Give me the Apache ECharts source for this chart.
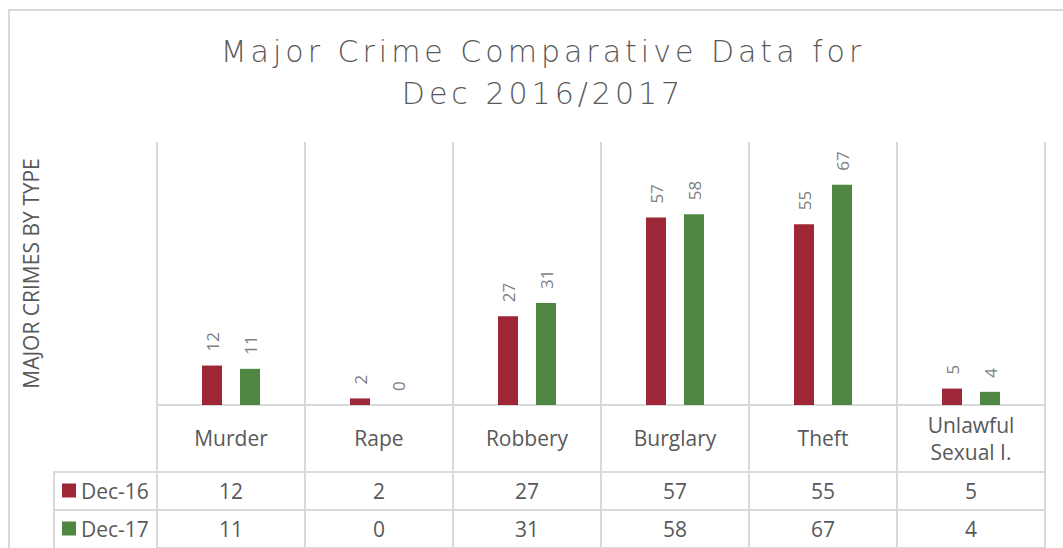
<!DOCTYPE html>
<html>
<head>
<meta charset="utf-8">
<script src="https://cdn.jsdelivr.net/npm/echarts@6/dist/echarts.min.js"></script>
<style>
    html, body { margin: 0; padding: 0; background: #fff; }
    #chart { width: 1063px; height: 548px; }
    /* spaced-out title letters, like the original */
    #chart text[style*="30px"] { letter-spacing: 4px; }
</style>
</head>
<body>
<div id="chart"></div>
<script>
const categories = ['Murder', 'Rape', 'Robbery', 'Burglary', 'Theft', 'Unlawful Sexual I.'];
const dec16 = [12, 2, 27, 57, 55, 5];
const dec17 = [11, 0, 31, 58, 67, 4];
const seriesNames = ['Dec-16', 'Dec-17'];

const gridColor = '#d9d9d9';
const textColor = '#595959';
const tableFont = 'Open Sans';

const chart = echarts.init(document.getElementById('chart'), null, { renderer: 'svg' });

// one row of the data table under the plot
function tableAxis(gridIndex, values) {
    return {
        type: 'category',
        gridIndex: gridIndex,
        data: categories,
        axisLine: { show: false },
        axisTick: { show: false },
        splitLine: { show: true, lineStyle: { color: gridColor, width: 2 } },
        axisLabel: {
            inside: true,
            margin: 19,
            verticalAlign: 'middle',
            fontFamily: tableFont,
            fontSize: 21,
            color: textColor,
            formatter: (v, i) => String(values[i]),
        },
    };
}

function hiddenY(gridIndex) {
    return { type: 'value', gridIndex: gridIndex, show: false, min: 0, max: 1 };
}

const barLabel = {
    show: true, position: 'top', rotate: 90, align: 'left', verticalAlign: 'middle',
    distance: 14, fontFamily: tableFont, fontSize: 17, color: '#7f7f7f',
};

chart.setOption({
    animation: false,
    title: {
        text: 'Major Crime Comparative Data for\nDec 2016/2017',
        left: 543,
        top: 30,
        padding: 0,
        textAlign: 'center',
        textStyle: {
            fontFamily: 'DejaVu Sans',
            fontWeight: 200,
            fontSize: 30,
            lineHeight: 42,
            color: textColor,
        },
    },
    legend: {
        data: seriesNames,
        orient: 'vertical',
        left: 62,
        top: 480,
        padding: 0,
        icon: 'rect',
        itemWidth: 14,
        itemHeight: 14,
        itemGap: 17,
        textStyle: { fontFamily: tableFont, fontSize: 21, lineHeight: 21, color: textColor },
    },
    grid: [
        { left: 157, right: 18, top: 142, height: 263 },
        { left: 157, right: 18, top: 472, height: 38, show: true, borderColor: gridColor, borderWidth: 2 },
        { left: 157, right: 18, top: 510, height: 38, show: true, borderColor: gridColor, borderWidth: 2 },
    ],
    xAxis: [
        {
            type: 'category',
            gridIndex: 0,
            data: categories,
            axisLine: { lineStyle: { color: gridColor, width: 2 } },
            axisTick: { show: true, length: 67, lineStyle: { color: gridColor, width: 2 } },
            splitLine: { show: true, lineStyle: { color: gridColor, width: 2 } },
            axisLabel: {
                margin: 33,
                verticalAlign: 'middle',
                fontFamily: tableFont,
                fontSize: 21,
                lineHeight: 27,
                color: textColor,
                formatter: (v) => v.replace('Unlawful ', 'Unlawful\n'),
            },
        },
        tableAxis(1, dec16),
        tableAxis(2, dec17),
    ],
    yAxis: [
        {
            type: 'value',
            gridIndex: 0,
            min: 0,
            max: 80,
            axisLine: { show: false },
            axisTick: { show: false },
            axisLabel: { show: false },
            splitLine: { show: false },
            name: 'MAJOR CRIMES BY TYPE',
            nameLocation: 'middle',
            nameRotate: 90,
            nameGap: 116,
            nameTextStyle: { fontFamily: tableFont, fontSize: 21, color: textColor },
        },
        hiddenY(1),
        hiddenY(2),
    ],
    series: [
        {
            name: seriesNames[0],
            type: 'bar',
            data: dec16,
            barWidth: 20,
            barGap: '90%',
            itemStyle: { color: '#9f2636' },
            label: barLabel,
        },
        {
            name: seriesNames[1],
            type: 'bar',
            data: dec17,
            barWidth: 20,
            barGap: '90%',
            itemStyle: { color: '#4e8642' },
            label: barLabel,
        },
    ],
    graphic: [
        // chart frame
        { type: 'rect', shape: { x: 9, y: 10, width: 1100, height: 600 }, style: { fill: 'none', stroke: gridColor, lineWidth: 2 } },
        // legend column of the data table
        { type: 'polyline', shape: { points: [[157, 472], [54, 472], [54, 560]] }, style: { fill: 'none', stroke: gridColor, lineWidth: 2 } },
        { type: 'line', shape: { x1: 54, y1: 510, x2: 157, y2: 510 }, style: { stroke: gridColor, lineWidth: 2 } },
    ],
});
</script>
</body>
</html>
